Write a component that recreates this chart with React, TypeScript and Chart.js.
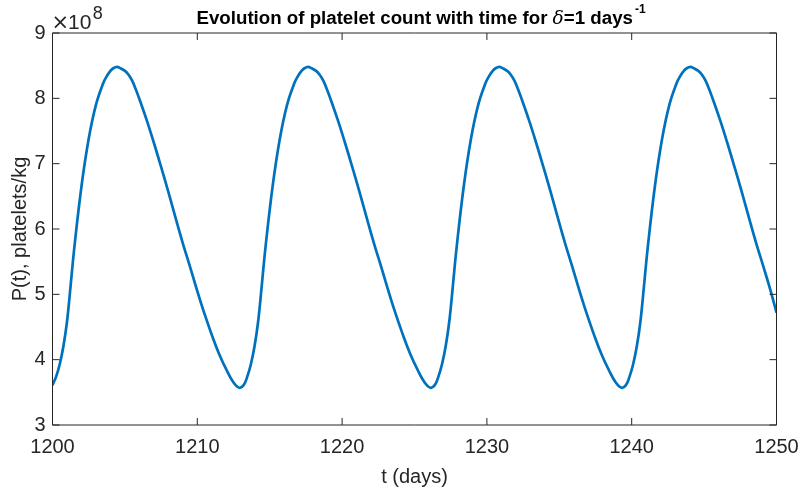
import React, { useEffect, useRef } from "react";
import { Chart, registerables } from "chart.js";

Chart.register(...registerables);

// time in days
const tDays: number[] = [
  1200.0, 1200.25, 1200.5, 1200.75, 1201.0, 1201.25, 1201.5, 1202.0, 1202.5, 1203.0, 1203.5, 1203.75, 1204.0, 1204.2, 1204.45,
  1204.7, 1205.0, 1205.25, 1205.5, 1205.75, 1206.0, 1206.5, 1207.0, 1207.5, 1208.0, 1208.5, 1209.0, 1209.5,
  1210.0, 1210.5, 1211.0, 1211.5, 1212.0, 1212.5, 1212.9,
  1213.2, 1213.45, 1213.7, 1213.95, 1214.2, 1214.45, 1214.7, 1215.2, 1215.7, 1216.2, 1216.7, 1216.95, 1217.2, 1217.4, 1217.65,
  1217.9, 1218.2, 1218.45, 1218.7, 1218.95, 1219.2, 1219.7, 1220.2, 1220.7, 1221.2, 1221.7, 1222.2, 1222.7,
  1223.2, 1223.7, 1224.2, 1224.7, 1225.2, 1225.7, 1226.1,
  1226.4, 1226.65, 1226.9, 1227.15, 1227.4, 1227.65, 1227.9, 1228.4, 1228.9, 1229.4, 1229.9, 1230.15, 1230.4, 1230.6, 1230.85,
  1231.1, 1231.4, 1231.65, 1231.9, 1232.15, 1232.4, 1232.9, 1233.4, 1233.9, 1234.4, 1234.9, 1235.4, 1235.9,
  1236.4, 1236.9, 1237.4, 1237.9, 1238.4, 1238.9, 1239.3,
  1239.6, 1239.85, 1240.1, 1240.35, 1240.6, 1240.85, 1241.1, 1241.6, 1242.1, 1242.6, 1243.1, 1243.35, 1243.6, 1243.8, 1244.05,
  1244.3, 1244.6, 1244.85, 1245.1, 1245.35, 1245.6, 1246.1, 1246.6, 1247.1, 1247.6, 1248.1, 1248.6, 1249.1,
  1249.6, 1250.0,
];

// platelet count, in units of 1e8 platelets/kg
const plateletsE8: number[] = [
  3.61, 3.74, 3.93, 4.20, 4.58, 5.13, 5.70, 6.65, 7.38, 7.90, 8.23, 8.34, 8.42, 8.46, 8.48,
  8.46, 8.42, 8.36, 8.27, 8.14, 7.99, 7.67, 7.32, 6.95, 6.57, 6.17, 5.78, 5.42,
  5.05, 4.70, 4.38, 4.09, 3.85, 3.65, 3.57,
  3.61, 3.74, 3.93, 4.20, 4.58, 5.13, 5.70, 6.65, 7.38, 7.90, 8.23, 8.34, 8.42, 8.46, 8.48,
  8.46, 8.42, 8.36, 8.27, 8.14, 7.99, 7.67, 7.32, 6.95, 6.57, 6.17, 5.78, 5.42,
  5.05, 4.70, 4.38, 4.09, 3.85, 3.65, 3.57,
  3.61, 3.74, 3.93, 4.20, 4.58, 5.13, 5.70, 6.65, 7.38, 7.90, 8.23, 8.34, 8.42, 8.46, 8.48,
  8.46, 8.42, 8.36, 8.27, 8.14, 7.99, 7.67, 7.32, 6.95, 6.57, 6.17, 5.78, 5.42,
  5.05, 4.70, 4.38, 4.09, 3.85, 3.65, 3.57,
  3.61, 3.74, 3.93, 4.20, 4.58, 5.13, 5.70, 6.65, 7.38, 7.90, 8.23, 8.34, 8.42, 8.46, 8.48,
  8.46, 8.42, 8.36, 8.27, 8.14, 7.99, 7.67, 7.32, 6.95, 6.57, 6.17, 5.78, 5.42,
  5.05, 4.72,
];

const xTicks: number[] = [1200, 1210, 1220, 1230, 1240, 1250];
const yTicks: number[] = [3, 4, 5, 6, 7, 8, 9];

const titleMain = "Evolution of platelet count with time for ";
const titleDelta = "\u03B4";
const titleRest = "=1 days";
const titleSup = "-1";
const xLabel = "t (days)";
const yLabel = "P(t), platelets/kg";
const exponentTimes = "\u00D7";
const exponentBase = "10";
const exponentPow = "8";

const FONT = "'Liberation Sans', Arial, Helvetica, sans-serif";
const AXIS_COLOR = "#262626";

const overlayPlugin = {
  id: "matlabOverlay",
  afterDraw(chart: any) {
    const { ctx, chartArea: a, scales } = chart;
    const xs = scales.x;
    const ys = scales.y;
    ctx.save();
    ctx.strokeStyle = AXIS_COLOR;
    ctx.lineWidth = 1;
    ctx.beginPath();
    ctx.rect(a.left, a.top, a.right - a.left, a.bottom - a.top);
    const tl = 7;
    xTicks.forEach((v) => {
      const p = xs.getPixelForValue(v);
      ctx.moveTo(p, a.bottom);
      ctx.lineTo(p, a.bottom - tl);
      ctx.moveTo(p, a.top);
      ctx.lineTo(p, a.top + tl);
    });
    yTicks.forEach((v) => {
      const p = ys.getPixelForValue(v);
      ctx.moveTo(a.left, p);
      ctx.lineTo(a.left + tl, p);
      ctx.moveTo(a.right, p);
      ctx.lineTo(a.right - tl, p);
    });
    ctx.stroke();

    ctx.fillStyle = AXIS_COLOR;
    // x label
    ctx.font = `20px ${FONT}`;
    ctx.textAlign = "center";
    ctx.textBaseline = "middle";
    ctx.fillText(xLabel, (a.left + a.right) / 2, 477);
    // y label
    ctx.save();
    ctx.translate(20, (a.top + a.bottom) / 2);
    ctx.rotate(-Math.PI / 2);
    ctx.fillText(yLabel, 0, 0);
    ctx.restore();

    // exponent
    ctx.textAlign = "left";
    ctx.textBaseline = "alphabetic";
    ctx.font = `21px 'DejaVu Sans', ${FONT}`;
    ctx.fillText(exponentTimes, 51.5, 28.5);
    ctx.font = `21px ${FONT}`;
    ctx.fillText(exponentBase, 68, 28.5);
    const wBase = ctx.measureText(exponentBase).width;
    ctx.font = `18px ${FONT}`;
    ctx.fillText(exponentPow, 68 + wBase + 1.5, 18.5);

    // title
    ctx.fillStyle = "#000000";
    const bold = `bold 18.7px ${FONT}`;
    const italicSerif = `italic 18.7px 'DejaVu Serif', 'Liberation Serif', serif`;
    let x = 196.5;
    const base = 24;
    ctx.font = bold;
    ctx.fillText(titleMain, x, base);
    x += ctx.measureText(titleMain).width;
    ctx.font = italicSerif;
    ctx.fillText(titleDelta, x, base);
    x += ctx.measureText(titleDelta).width;
    ctx.font = bold;
    ctx.fillText(titleRest, x, base);
    x += ctx.measureText(titleRest).width;
    ctx.font = `bold 12px ${FONT}`;
    ctx.fillText(titleSup, x + 2, 13);
    ctx.restore();
  },
};

export default function App() {
  const ref = useRef<HTMLCanvasElement | null>(null);
  useEffect(() => {
    document.body.style.margin = "0";
    const canvas = ref.current;
    if (!canvas) return;
    const chart = new Chart(canvas, {
      type: "line",
      data: {
        datasets: [
          {
            data: tDays.map((t, i) => ({ x: t, y: plateletsE8[i] })),
            borderColor: "#0072BD",
            borderWidth: 2.7,
            pointRadius: 0,
            fill: false,
            tension: 0.4,
          },
        ],
      },
      options: {
        responsive: false,
        animation: false,
        events: [],
        layout: { padding: { top: 33, right: 24.5, left: 0, bottom: 0 } },
        plugins: {
          legend: { display: false },
          tooltip: { enabled: false },
          title: { display: false },
        },
        scales: {
          x: {
            type: "linear",
            min: 1200,
            max: 1250,
            grid: { display: false, drawTicks: false },
            border: { display: false },
            ticks: {
              stepSize: 10,
              padding: 10,
              color: AXIS_COLOR,
              font: { family: FONT, size: 20 },
              maxRotation: 0,
              callback: (v: any) => String(v),
            },
            afterFit: (s: any) => {
              s.height = 66;
              s.paddingLeft = 0;
              s.paddingRight = 0;
            },
          },
          y: {
            type: "linear",
            min: 3,
            max: 9,
            grid: { display: false, drawTicks: false },
            border: { display: false },
            ticks: {
              stepSize: 1,
              padding: 7,
              color: AXIS_COLOR,
              font: { family: FONT, size: 20 },
              callback: (v: any) => String(v),
            },
            afterFit: (s: any) => {
              s.width = 52.5;
              s.paddingTop = 0;
              s.paddingBottom = 0;
            },
          },
        },
      },
      plugins: [overlayPlugin],
    } as any);
    return () => chart.destroy();
  }, []);
  return (
    <div style={{ width: 801, height: 491 }}>
      <canvas ref={ref} width={801} height={491} style={{ display: "block" }} />
    </div>
  );
}
